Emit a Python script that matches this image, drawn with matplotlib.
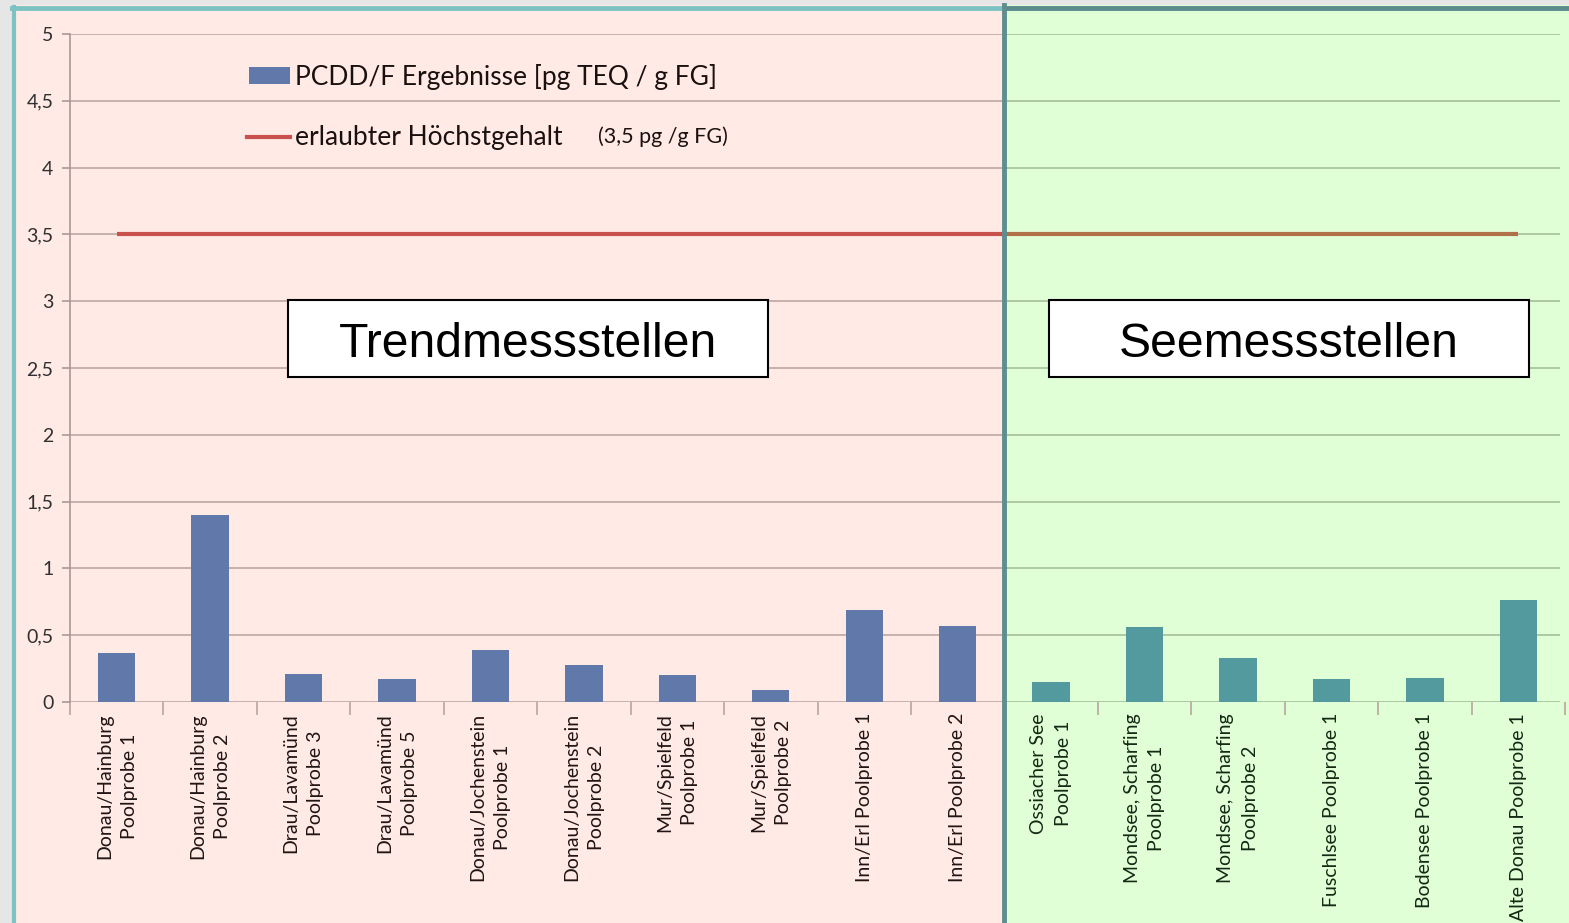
import matplotlib
matplotlib.use("Agg")
import matplotlib.pyplot as plt
from matplotlib.patches import Rectangle
from matplotlib.transforms import blended_transform_factory

plt.rcParams['font.family'] = ['Lato', 'DejaVu Sans']

# data
labels = [
    "Donau/Hainburg\nPoolprobe 1", "Donau/Hainburg\nPoolprobe 2",
    "Drau/Lavamünd\nPoolprobe 3", "Drau/Lavamünd\nPoolprobe 5",
    "Donau/Jochenstein\nPoolprobe 1", "Donau/Jochenstein\nPoolprobe 2",
    "Mur/Spielfeld\nPoolprobe 1", "Mur/Spielfeld\nPoolprobe 2",
    "Inn/Erl Poolprobe 1", "Inn/Erl Poolprobe 2",
    "Ossiacher See\nPoolprobe 1", "Mondsee, Scharfing\nPoolprobe 1",
    "Mondsee, Scharfing\nPoolprobe 2", "Fuschlsee Poolprobe 1",
    "Bodensee Poolprobe 1", "Alte Donau Poolprobe 1",
]
values = [0.37, 1.40, 0.21, 0.17, 0.39, 0.28, 0.20, 0.09, 0.69, 0.57,
          0.15, 0.56, 0.33, 0.17, 0.18, 0.76]
n_trend = 10
limit = 3.5
yticks = [0, 0.5, 1, 1.5, 2, 2.5, 3, 3.5, 4, 4.5, 5]

pink = '#FFEAE5'
green = '#E0FFD6'
blue = '#6178AA'
teal = '#539A9F'

fig = plt.figure(figsize=(15.69, 9.23), dpi=100)
fig.patch.set_facecolor('#E6E6E6')
ax = fig.add_axes([70/1569, (923-702)/923, 1495/1569, 668/923])
ax.set_facecolor('none')

n = len(values)
ax.set_xlim(-0.5, n - 0.5)
ax.set_ylim(0, 5)
div = n_trend - 0.5

# panel backgrounds
fig.add_artist(Rectangle((12/1569, 0), 1, 1 - 5/923, transform=fig.transFigure,
                         facecolor=pink, edgecolor='none', zorder=-10))
bt = blended_transform_factory(ax.transData, fig.transFigure)
fig.add_artist(Rectangle((div, 0), 20, 1 - 5/923, transform=bt,
                         facecolor=green, edgecolor='none', zorder=-9))
# borders
fig.add_artist(plt.Line2D([14/1569, 14/1569], [0, 1 - 7/923], transform=fig.transFigure,
                          color='#7DC3C3', lw=3, zorder=-8))
fig.add_artist(plt.Line2D([12/1569, 1], [1 - 7.5/923, 1 - 7.5/923], transform=fig.transFigure,
                          color='#7DC3C3', lw=3.5, zorder=-8))
fig.add_artist(plt.Line2D([div, 20], [1 - 7.5/923, 1 - 7.5/923], transform=bt,
                          color='#5E8C8C', lw=3.5, zorder=-7))
fig.add_artist(plt.Line2D([div, div], [0, 1 - 5/923], transform=bt,
                          color='#5E8E8E', lw=3.5, zorder=5))

# gridlines
ax.hlines(yticks, -0.5, div, colors='#C4ADA8', lw=1.3, zorder=1)
ax.hlines(yticks, div, n - 0.55, colors='#A9C4A1', lw=1.3, zorder=1)

# bars
x = list(range(n))
ax.bar(x[:n_trend], values[:n_trend], width=0.4, color=blue, zorder=2)
ax.bar(x[n_trend:], values[n_trend:], width=0.4, color=teal, zorder=2)

# limit line
ax.hlines(limit, 0, div, colors='#C8504D', lw=3, zorder=3)
ax.hlines(limit, div, n - 1, colors='#B07048', lw=3, zorder=3)

# axes styling
for s in ['top', 'right', 'bottom']:
    ax.spines[s].set_visible(False)
ax.spines['left'].set_color('#A89896')
ax.spines['left'].set_linewidth(1.2)
ax.set_yticks(yticks)
ax.set_yticklabels([('%g' % t).replace('.', ',') for t in yticks], fontsize=14, color='#303030')
ax.tick_params(axis='y', length=6, color='#A89896', width=1.2, pad=6)

ax.set_xticks(x)
ax.set_xticklabels(labels, rotation=90, fontsize=14, ha='center', va='top',
                   multialignment='center', linespacing=1.55)
ax.tick_params(axis='x', length=0, pad=8)
for i, t in enumerate(ax.get_xticklabels()):
    t.set_color('#201414' if i < n_trend else '#142814')
ax.set_xticks([i - 0.5 for i in range(n + 1)], minor=True)
ax.tick_params(axis='x', which='minor', length=9, color='#B8A6A2', width=1.2)

# section boxes
for bx, txt in [(0.1458, "Trendmessstellen"), (0.6548, "Seemessstellen")]:
    ax.add_patch(Rectangle((bx, 0.4865), 0.321, 0.1153, transform=ax.transAxes,
                           facecolor='white', edgecolor='black', lw=1.5, zorder=6))
    ax.text(bx + 0.1605, 0.5351, txt, transform=ax.transAxes,
            ha='center', va='center', fontsize=34.7, family='Liberation Sans', zorder=7)

# legend
ax.add_patch(Rectangle((0.1197, 0.925), 0.0275, 0.0256, transform=ax.transAxes,
                       facecolor=blue, edgecolor='none', zorder=6))
ax.text(0.1505, 0.936, "PCDD/F Ergebnisse [pg TEQ / g FG]", transform=ax.transAxes,
        ha='left', va='center', fontsize=19, color='#1A1010', zorder=7)
ax.add_line(plt.Line2D([0.1184, 0.1472], [0.8458, 0.8458], transform=ax.transAxes,
                       color='#C8504D', lw=3, zorder=6))
ax.text(0.1505, 0.8448, "erlaubter Höchstgehalt", transform=ax.transAxes,
        ha='left', va='center', fontsize=19, color='#1A1010', zorder=7)
ax.text(0.3532, 0.8458, "(3,5 pg /g FG)", transform=ax.transAxes,
        ha='left', va='center', fontsize=15.5, color='#1A1010', zorder=7)

fig.savefig("out.png", dpi=100, facecolor=fig.get_facecolor())
